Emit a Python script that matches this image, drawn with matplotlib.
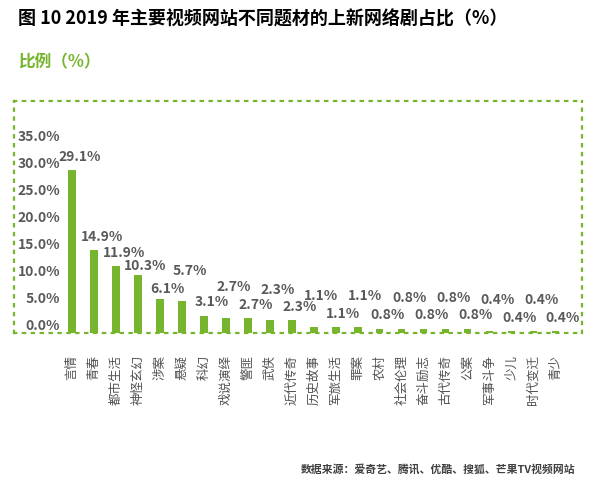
import matplotlib
matplotlib.use('Agg')
import matplotlib.pyplot as plt

plt.rcParams['font.family'] = ['Noto Sans CJK SC', 'DejaVu Sans']

# data
genres = ['言情', '青春', '都市生活', '神怪玄幻', '涉案', '悬疑', '科幻', '戏说演绎',
          '警匪', '武侠', '近代传奇', '历史故事', '军旅生活', '罪案', '农村', '社会伦理',
          '奋斗励志', '古代传奇', '公案', '军事斗争', '少儿', '时代变迁', '青少']
share = [29.1, 14.9, 11.9, 10.3, 6.1, 5.7, 3.1, 2.7, 2.7, 2.3, 2.3, 1.1, 1.1, 1.1,
         0.8, 0.8, 0.8, 0.8, 0.8, 0.4, 0.4, 0.4, 0.4]
y_ticks = [0, 5, 10, 15, 20, 25, 30, 35]

title = '图 10 2019 年主要视频网站不同题材的上新网络剧占比（%）'
unit = '比例（%）'
source = '数据来源：爱奇艺、腾讯、优酷、搜狐、芒果TV视频网站'

green = '#77b52f'
grey = '#595959'

fig = plt.figure(figsize=(5.96, 4.91), dpi=100)
ax = fig.add_axes([0.0235, 0.3218, 0.953, 0.4725])

x = list(range(len(share)))
ax.bar(x, share, width=0.35, color=green, zorder=2)
ax.set_xlim(-2.64, 23.21)
ax.set_ylim(0, 41.5)

# staggered value labels, as in the original
lifted = {5, 7, 9, 11, 13, 15, 17, 19, 21}
tight = {3, 4}
for i, v in enumerate(share):
    if i in lifted:
        dy = 22
    elif i in tight:
        dy = 7
    else:
        dy = 9.5
    ax.annotate(f'{v:.1f}%', (i, v), xytext=(5.5, dy), textcoords='offset points',
                ha='center', va='center', fontsize=10, fontweight='bold', color=grey)

# the y labels sit on their own slightly shifted scale in the original
ax2 = ax.twinx()
ax2.set_ylim(-1.3, 41.67)
ax2.set_yticks([])
for t in y_ticks:
    ax2.text(0.081, t, f'{t:.1f}%', transform=ax2.get_yaxis_transform(),
             ha='right', va='center', fontsize=10, fontweight='bold', color=grey)

ax.set_yticks([])
ax.set_xticks(x)
ax.set_xticklabels(genres, rotation=90, fontsize=9, color='#505050')
ax.tick_params(axis='x', length=0, pad=16)

for a in (ax, ax2):
    for s in a.spines.values():
        s.set_visible(a is ax)
        s.set_color(green)
        s.set_linewidth(1.6)
        s.set_linestyle((0, (1, 3)))

fig.text(0.03, 0.962, title, fontsize=13, fontweight='bold', color='black', va='center')
fig.text(0.03, 0.873, unit, fontsize=12, fontweight='bold', color=green, va='center')
fig.text(0.965, 0.043, source, fontsize=7.8, fontweight='bold', color='#404040',
         ha='right', va='center')

plt.savefig('out.png', dpi=100)
